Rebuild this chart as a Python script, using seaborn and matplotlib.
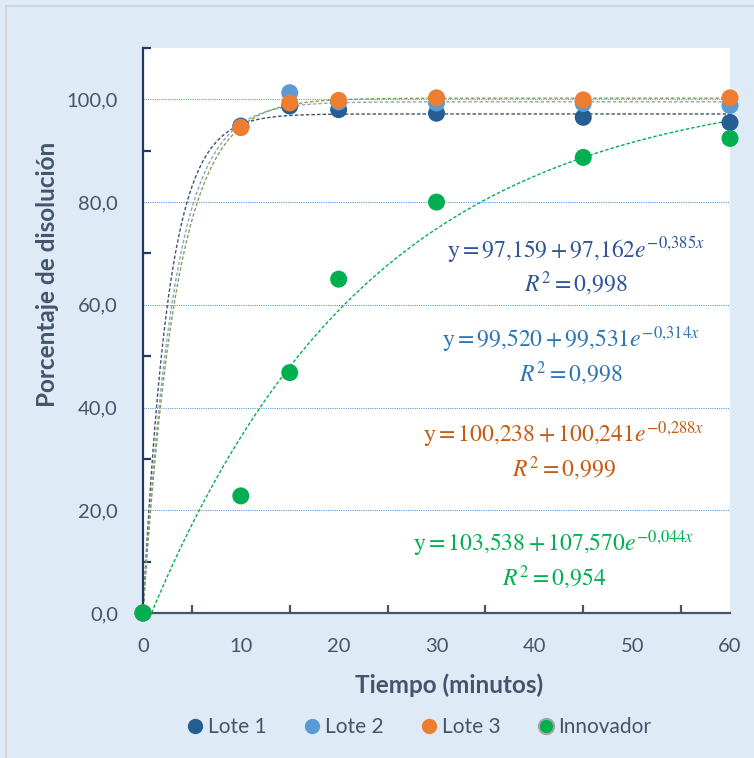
import numpy as np
import pandas as pd
import matplotlib
matplotlib.use("Agg")
import matplotlib.pyplot as plt
from matplotlib.lines import Line2D
from matplotlib.patches import Rectangle
import seaborn as sns

# data
tiempo = [0, 10, 15, 20, 30, 45, 60]
lote1 = [0.0, 94.8, 98.7, 98.0, 97.3, 96.5, 95.5]
lote2 = [0.0, 94.6, 101.3, 99.5, 99.3, 99.2, 98.8]
lote3 = [0.0, 94.5, 99.3, 99.8, 100.3, 99.9, 100.3]
innovador = [0.0, 22.8, 46.8, 65.0, 80.0, 88.7, 92.4]

series = ["Lote 1", "Lote 2", "Lote 3", "Innovador"]
# trendline parameters shown on the chart: y = a - b*exp(-k x)
fit_a = [97.159, 99.520, 100.238, 103.538]
fit_b = [97.162, 99.531, 100.241, 107.570]
fit_k = [0.385, 0.314, 0.288, 0.044]
fit_r2 = ["0{,}998", "0{,}998", "0{,}999", "0{,}954"]

marker_colors = ["#255E91", "#5B9BD5", "#ED7D31", "#00B050"]
trend_colors = ["#44546A", "#8EA4C2", "#7FA05A", "#00B050"]
eq_colors = ["#2F5597", "#2E75B6", "#C55A11", "#00B050"]

df = pd.DataFrame({
    "Tiempo": tiempo * 4,
    "Valor": lote1 + lote2 + lote3 + innovador,
    "Serie": sum([[s] * len(tiempo) for s in series], []),
})

sns.set_style("white")
plt.rcParams["font.family"] = ["Lato", "DejaVu Sans"]
plt.rcParams["mathtext.fontset"] = "stix"

bg = "#DEEAF6"
txt = "#44546A"
fig = plt.figure(figsize=(7.54, 7.58), dpi=100, facecolor=bg)
fig.patches.append(Rectangle((6 / 754, -0.01), 1.02, 1.01 - 6 / 758, transform=fig.transFigure,
                             facecolor="none", edgecolor="#D0D0D0", lw=1.2))
ax = fig.add_axes([143 / 754, 1 - 613 / 758, (730 - 143) / 754, (613 - 48) / 758])
ax.set_facecolor("white")

# trendlines
for i, s in enumerate(series):
    x0 = max(0.0, np.log(fit_b[i] / fit_a[i]) / fit_k[i])
    xs = np.linspace(x0, 60, 300)
    ys = fit_a[i] - fit_b[i] * np.exp(-fit_k[i] * xs)
    ax.plot(xs, ys, ls=(0, (2.5, 1.5)), lw=1.0, color=trend_colors[i], zorder=2)

sns.scatterplot(data=df, x="Tiempo", y="Valor", hue="Serie", hue_order=series,
                palette=marker_colors, s=150, linewidth=0, ax=ax, zorder=3, legend=False)
for coll in ax.collections:
    coll.set_clip_on(False)

ax.set_xlim(0, 60)
ax.set_ylim(0, 110)
ax.set_xticks(range(0, 61, 10))
ax.set_xticks(range(5, 60, 10), minor=True)
ax.set_yticks(range(0, 101, 20))
ax.set_yticks(range(10, 111, 20), minor=True)
ax.set_yticklabels([f"{v},0" for v in range(0, 101, 20)])
for v in range(20, 101, 20):
    ax.axhline(v, color="#5B9BD5", lw=0.8, ls=(0, (1, 1)), zorder=1)

for side in ["top", "right"]:
    ax.spines[side].set_visible(False)
ax.spines["left"].set_color("#203864")
ax.spines["left"].set_linewidth(1.6)
ax.spines["bottom"].set_color("#44546A")
ax.spines["bottom"].set_linewidth(1.6)
ax.tick_params(axis="y", which="major", direction="inout", length=12, width=1.6,
               color="#203864", labelsize=14.5, labelcolor=txt, pad=12)
ax.tick_params(axis="y", which="minor", direction="in", length=6, width=1.6, color="#203864", left=True)
ax.tick_params(axis="x", which="major", direction="inout", length=12, width=1.6,
               color="#44546A", labelsize=14.5, labelcolor=txt, pad=12)
ax.tick_params(axis="x", which="minor", direction="in", length=6, width=1.6, color="#44546A", bottom=True)

ax.set_xlabel("Tiempo (minutos)", fontsize=17.5, fontweight="bold", color=txt)
ax.set_ylabel("Porcentaje de disolución", fontsize=17.5, fontweight="bold", color=txt)
ax.xaxis.set_label_coords((449 - 143) / 587, -(673 - 613) / 565)
ax.yaxis.set_label_coords(-(143 - 59) / 587, (613 - 274) / 565)

# equations
eq_pos = [(44.2, 67.6), (43.75, 50.0), (43.0, 31.5), (42.0, 10.3)]
for i, s in enumerate(series):
    a = f"{fit_a[i]:.3f}".replace(".", "{,}")
    b = f"{fit_b[i]:.3f}".replace(".", "{,}")
    k = f"{fit_k[i]:.3f}".replace(".", "{,}")
    eq = rf"$\mathrm{{y}} = {a} + {b}e^{{-{k}x}}$" + "\n" + rf"$R^2 = {fit_r2[i]}$"
    ax.text(eq_pos[i][0], eq_pos[i][1], eq, ha="center", va="center", fontsize=17,
            color=eq_colors[i], linespacing=1.2)

handles = []
for i, s in enumerate(series):
    handles.append(Line2D([], [], ls="none", marker="o", markersize=11,
                          markerfacecolor=marker_colors[i],
                          markeredgecolor="#A6A6A6" if s == "Innovador" else marker_colors[i],
                          markeredgewidth=1.5 if s == "Innovador" else 0, label=s))
leg = fig.legend(handles=handles, loc="center", bbox_to_anchor=(0.556, 1 - 727 / 758), ncol=4,
                 frameon=False, fontsize=15, handlelength=0.8, handletextpad=0.2,
                 columnspacing=1.8, labelcolor=txt)

fig.savefig("out.png", dpi=100, facecolor=bg)
